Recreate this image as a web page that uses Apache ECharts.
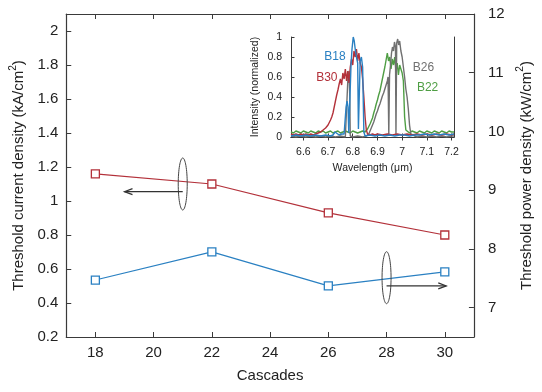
<!DOCTYPE html>
<html><head><meta charset="utf-8">
<script src="https://cdn.jsdelivr.net/npm/echarts@6/dist/echarts.min.js"></script>
<style>html,body{margin:0;padding:0;background:#fff}#c{width:542px;height:392px}</style>
</head><body><div id="c"></div>
<script>
// ---- data ----
const cascades = [18, 22, 26, 30];
const currentDensity = [1.16, 1.10, 0.93, 0.80];   // kA/cm2, left axis
const powerDensity = [7.47, 7.95, 7.37, 7.61];     // kW/cm2, right axis
const xTicks = [18, 20, 22, 24, 26, 28, 30];
const leftTicks = [0.2, 0.4, 0.6, 0.8, 1, 1.2, 1.4, 1.6, 1.8, 2];
const rightTicks = [7, 8, 9, 10, 11, 12];
const insetXTicks = [6.6, 6.7, 6.8, 6.9, 7, 7.1, 7.2];
const insetYTicks = [0, 0.2, 0.4, 0.6, 0.8, 1];

const specB22 = [[6.55,0.05],[6.56,0.04],[6.57,0.06],[6.58,0.05],[6.59,0.04],[6.6,0.06],[6.61,0.05],[6.62,0.04],[6.63,0.06],[6.64,0.05],[6.65,0.04],[6.66,0.06],[6.67,0.05],[6.68,0.06],[6.69,0.04],[6.7,0.05],[6.71,0.06],[6.72,0.04],[6.73,0.05],[6.74,0.06],[6.75,0.04],[6.76,0.05],[6.77,0.06],[6.78,0.05],[6.79,0.04],[6.8,0.06],[6.81,0.05],[6.82,0.04],[6.83,0.05],[6.84,0.06],[6.85,0.05],[6.855,0.06],[6.86,0.08],[6.865,0.1],[6.87,0.13],[6.875,0.16],[6.88,0.19],[6.885,0.24],[6.89,0.28],[6.895,0.33],[6.9,0.37],[6.905,0.42],[6.91,0.46],[6.915,0.52],[6.92,0.58],[6.925,0.64],[6.93,0.7],[6.935,0.77],[6.94,0.84],[6.945,0.76],[6.95,0.8],[6.955,0.68],[6.96,0.78],[6.965,0.72],[6.97,0.8],[6.975,0.66],[6.98,0.74],[6.985,0.62],[6.99,0.72],[6.995,0.68],[7.0,0.64],[7.005,0.56],[7.01,0.2],[7.015,0.07],[7.02,0.05],[7.03,0.04],[7.04,0.06],[7.05,0.05],[7.06,0.04],[7.07,0.06],[7.08,0.05],[7.09,0.04],[7.1,0.06],[7.11,0.05],[7.12,0.04],[7.13,0.06],[7.14,0.05],[7.15,0.04],[7.16,0.06],[7.17,0.05],[7.18,0.04],[7.19,0.06],[7.2,0.05],[7.21,0.05]];
const specB26 = [[6.55,0.01],[6.57,0.0],[6.59,0.01],[6.61,0.0],[6.63,0.01],[6.65,0.0],[6.67,0.01],[6.69,0.0],[6.71,0.01],[6.73,0.0],[6.75,0.01],[6.77,0.0],[6.778,0.01],[6.781,0.62],[6.785,0.66],[6.788,0.4],[6.79,0.01],[6.8,0.0],[6.82,0.01],[6.84,0.0],[6.855,0.01],[6.86,0.02],[6.865,0.03],[6.87,0.06],[6.875,0.09],[6.88,0.12],[6.885,0.15],[6.89,0.19],[6.895,0.23],[6.9,0.26],[6.905,0.3],[6.91,0.33],[6.915,0.37],[6.92,0.41],[6.925,0.44],[6.93,0.48],[6.935,0.52],[6.94,0.56],[6.943,0.6],[6.946,0.02],[6.949,0.62],[6.953,0.72],[6.957,0.84],[6.961,0.9],[6.965,0.86],[6.969,0.95],[6.973,0.9],[6.975,0.02],[6.978,0.94],[6.982,0.98],[6.986,0.92],[6.99,0.96],[6.995,0.86],[7.0,0.8],[7.005,0.7],[7.01,0.6],[7.015,0.48],[7.02,0.4],[7.025,0.28],[7.03,0.12],[7.035,0.03],[7.04,0.01],[7.06,0.0],[7.08,0.01],[7.1,0.0],[7.12,0.01],[7.14,0.0],[7.16,0.01],[7.18,0.0],[7.2,0.01],[7.21,0.01]];
const specB30 = [[6.55,0.03],[6.56,0.02],[6.57,0.03],[6.58,0.02],[6.59,0.03],[6.6,0.02],[6.61,0.03],[6.62,0.02],[6.63,0.03],[6.64,0.02],[6.65,0.03],[6.66,0.04],[6.67,0.05],[6.68,0.07],[6.69,0.09],[6.7,0.12],[6.705,0.14],[6.71,0.17],[6.715,0.2],[6.72,0.24],[6.725,0.3],[6.73,0.36],[6.735,0.42],[6.74,0.47],[6.745,0.53],[6.75,0.58],[6.755,0.52],[6.76,0.64],[6.765,0.58],[6.77,0.68],[6.775,0.56],[6.78,0.66],[6.785,0.54],[6.79,0.7],[6.795,0.78],[6.8,0.72],[6.805,0.86],[6.81,0.8],[6.815,0.88],[6.82,0.76],[6.825,0.84],[6.83,0.74],[6.835,0.7],[6.84,0.58],[6.845,0.4],[6.85,0.2],[6.855,0.07],[6.86,0.03],[6.87,0.02],[6.88,0.03],[6.89,0.02],[6.9,0.03],[6.92,0.02],[6.94,0.03],[6.96,0.02],[6.98,0.03],[7.0,0.02],[7.02,0.03],[7.04,0.02],[7.06,0.03],[7.08,0.02],[7.1,0.03],[7.12,0.02],[7.14,0.03],[7.16,0.02],[7.18,0.03],[7.2,0.02],[7.21,0.03]];
const specB18 = [[6.55,0.01],[6.57,0.02],[6.59,0.01],[6.61,0.02],[6.63,0.01],[6.65,0.02],[6.67,0.01],[6.69,0.02],[6.71,0.01],[6.72,0.02],[6.728,0.05],[6.735,0.03],[6.745,0.02],[6.755,0.03],[6.765,0.03],[6.77,0.04],[6.773,0.3],[6.777,0.36],[6.781,0.3],[6.784,0.04],[6.79,0.05],[6.793,0.72],[6.797,0.88],[6.802,1.0],[6.806,0.96],[6.81,0.88],[6.815,0.8],[6.82,0.74],[6.823,0.08],[6.827,0.1],[6.83,0.76],[6.835,0.8],[6.84,0.7],[6.845,0.05],[6.85,0.01],[6.87,0.02],[6.89,0.01],[6.91,0.02],[6.93,0.01],[6.95,0.02],[6.97,0.01],[6.99,0.02],[7.01,0.02],[7.03,0.01],[7.05,0.02],[7.07,0.02],[7.09,0.03],[7.11,0.02],[7.13,0.03],[7.15,0.02],[7.17,0.03],[7.19,0.02],[7.21,0.03]];

// ---- styling ----
const FONT = 'Liberation Sans, Arial, sans-serif';
const RED = '#b3313a', BLUE = '#2a80c2', GREEN = '#4f9e44', GRAY = '#707070';
const AX = '#3a3a3a', TXT = '#222';

const chart = echarts.init(document.getElementById('c'), null, {renderer: 'canvas'});

function mainAxis(extra) {
  return Object.assign({
    type: 'value', splitLine: {show: false},
    axisLine: {show: true, lineStyle: {color: AX, width: 1.2}},
    axisTick: {show: true, inside: true, length: 5, lineStyle: {color: AX, width: 1}},
    axisLabel: {color: TXT, fontSize: 15, fontFamily: FONT},
    nameTextStyle: {color: TXT, fontSize: 15, fontFamily: FONT}
  }, extra);
}
function insetAxis(extra) {
  return Object.assign({
    type: 'value', splitLine: {show: false},
    axisLine: {show: true, lineStyle: {color: AX, width: 1}},
    axisTick: {show: true, inside: true, length: 3.5, lineStyle: {color: AX, width: 1}},
    axisLabel: {color: TXT, fontSize: 10.5, fontFamily: FONT},
    nameTextStyle: {color: TXT, fontSize: 10.5, fontFamily: FONT}
  }, extra);
}
const supRich = (fs) => ({
  a: {fontSize: fs, fontFamily: FONT, color: TXT, lineHeight: 22},
  s: {fontSize: fs * 0.68, fontFamily: FONT, color: TXT, verticalAlign: 'top', lineHeight: 12}
});

const option = {
  animation: false,
  backgroundColor: '#fff',
  grid: [
    {left: 61, top: 14, right: 63, bottom: 55, containLabel: false},
    {left: 291, top: 37, right: 88, bottom: 255, containLabel: false, show: true, backgroundColor: '#fff', borderWidth: 0}
  ],
  xAxis: [
    mainAxis({gridIndex: 0, min: 17, max: 31, position: 'bottom',
      axisTick: {show: true, inside: true, length: 5, customValues: xTicks, lineStyle: {color: AX}},
      axisLabel: {color: TXT, fontSize: 15, fontFamily: FONT, margin: 8, customValues: xTicks},
      name: 'Cascades', nameLocation: 'middle', nameGap: 31}),
    mainAxis({gridIndex: 0, min: 17, max: 31, position: 'top',
      axisTick: {show: true, inside: true, length: 5, customValues: xTicks, lineStyle: {color: AX}},
      axisLabel: {show: false}}),
    insetAxis({gridIndex: 1, min: 6.55, max: 7.21, position: 'bottom',
      axisTick: {show: true, inside: true, length: 3.5, customValues: insetXTicks, lineStyle: {color: AX}},
      axisLabel: {color: TXT, fontSize: 10.5, fontFamily: FONT, margin: 10, customValues: insetXTicks},
      name: 'Wavelength (μm)', nameLocation: 'middle', nameGap: 26}),
    insetAxis({gridIndex: 1, min: 6.55, max: 7.21, position: 'top',
      axisTick: {show: true, inside: true, length: 3.5, customValues: insetXTicks, lineStyle: {color: AX}},
      axisLabel: {show: false}})
  ],
  yAxis: [
    mainAxis({gridIndex: 0, min: 0.2, max: 2.1, position: 'left',
      axisTick: {show: true, inside: true, length: 5, customValues: leftTicks, lineStyle: {color: AX}},
      axisLabel: {color: TXT, fontSize: 15, fontFamily: FONT, margin: 8, customValues: leftTicks},
      name: '{a|Threshold current density (kA/cm}{s|2}{a|)}', nameLocation: 'middle', nameGap: 34, nameRotate: 90,
      nameTextStyle: {rich: supRich(15)}}),
    mainAxis({gridIndex: 0, min: 6.5, max: 12, position: 'right',
      axisTick: {show: true, inside: true, length: 5, customValues: rightTicks, lineStyle: {color: AX}},
      axisLabel: {color: TXT, fontSize: 15, fontFamily: FONT, margin: 14, customValues: rightTicks},
      name: '{a|Threshold power density (kW/cm}{s|2}{a|)}', nameLocation: 'middle', nameGap: 39, nameRotate: 90,
      nameTextStyle: {rich: supRich(15)}}),
    insetAxis({gridIndex: 1, min: 0, max: 1, position: 'left',
      axisTick: {show: true, inside: true, length: 3.5, customValues: insetYTicks, lineStyle: {color: AX}},
      axisLabel: {color: TXT, fontSize: 10.5, fontFamily: FONT, margin: 9, customValues: insetYTicks},
      name: 'Intensity (normalized)', nameLocation: 'middle', nameGap: 30, nameRotate: 90}),
    insetAxis({gridIndex: 1, min: 0, max: 1, position: 'right',
      axisTick: {show: false}, axisLabel: {show: false}})
  ],
  series: [
    {type: 'line', xAxisIndex: 0, yAxisIndex: 0, data: cascades.map((c, i) => [c, currentDensity[i]]),
      symbol: 'rect', symbolSize: 8, lineStyle: {color: RED, width: 1.2},
      itemStyle: {color: '#fff', borderColor: RED, borderWidth: 1.3}, z: 5, silent: true},
    {type: 'line', xAxisIndex: 0, yAxisIndex: 1, data: cascades.map((c, i) => [c, powerDensity[i]]),
      symbol: 'rect', symbolSize: 8, lineStyle: {color: BLUE, width: 1.2},
      itemStyle: {color: '#fff', borderColor: BLUE, borderWidth: 1.3}, z: 5, silent: true},
    {type: 'line', xAxisIndex: 2, yAxisIndex: 2, data: specB22, showSymbol: false, lineStyle: {color: GREEN, width: 1.4}, silent: true, z: 3},
    {type: 'line', xAxisIndex: 2, yAxisIndex: 2, data: specB26, showSymbol: false, lineStyle: {color: GRAY, width: 1.4}, silent: true, z: 3},
    {type: 'line', xAxisIndex: 2, yAxisIndex: 2, data: specB30, showSymbol: false, lineStyle: {color: RED, width: 1.4}, silent: true, z: 3},
    {type: 'line', xAxisIndex: 2, yAxisIndex: 2, data: specB18, showSymbol: false, lineStyle: {color: BLUE, width: 1.4}, silent: true, z: 3}
  ]
};
chart.setOption(option);

// ---- annotations placed through the axes ----
const L = (v) => chart.convertToPixel({seriesIndex: 0}, v);
const R = (v) => chart.convertToPixel({seriesIndex: 1}, v);
const I = (v) => chart.convertToPixel({seriesIndex: 2}, v);
const g = [];
function ellipse(p) {
  g.push({type: 'ellipse', shape: {cx: p[0], cy: p[1], rx: 4.5, ry: 26}, style: {fill: 'none', stroke: '#444', lineWidth: 1}, z: 10});
}
function arrow(a, b) {
  const dir = Math.sign(b[0] - a[0]);
  g.push({type: 'line', shape: {x1: a[0], y1: a[1], x2: b[0], y2: b[1]}, style: {stroke: '#333', lineWidth: 1.2}, z: 10});
  g.push({type: 'polyline', shape: {points: [[b[0] - dir * 8, b[1] - 3], [b[0], b[1]], [b[0] - dir * 8, b[1] + 3]]}, style: {fill: 'none', stroke: '#333', lineWidth: 1.2}, z: 10});
}
ellipse(L([21, 1.1]));
arrow(L([21, 1.055]), L([19, 1.055]));
ellipse(R([28, 7.51]));
arrow(R([28, 7.37]), R([30.05, 7.37]));

const tags = [['B18', 6.728, 0.80, BLUE], ['B30', 6.695, 0.59, RED], ['B26', 7.086, 0.69, GRAY], ['B22', 7.103, 0.49, GREEN]];
tags.forEach(t => {
  const p = I([t[1], t[2]]);
  g.push({type: 'text', x: p[0], y: p[1], style: {text: t[0], fill: t[3], font: '12px ' + FONT, align: 'center', verticalAlign: 'middle'}, z: 10});
});
chart.setOption({graphic: g});
</script>
</body></html>
